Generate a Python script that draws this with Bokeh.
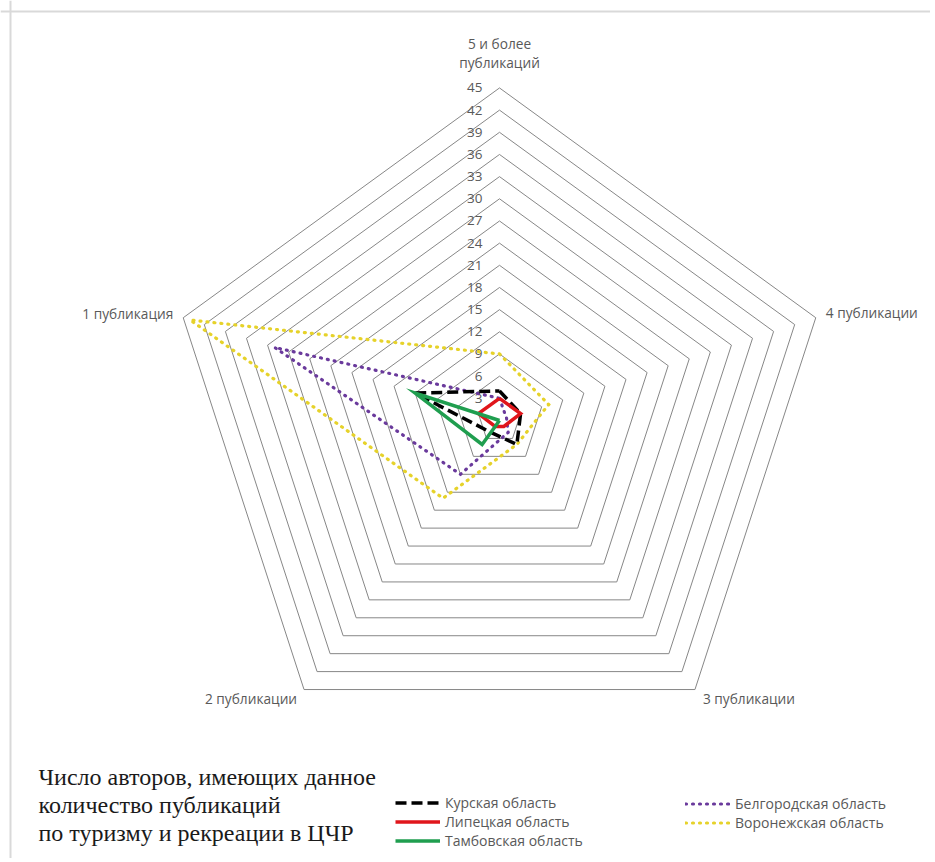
import numpy as np
from bokeh.plotting import figure
from bokeh.models import Range1d, Legend, LegendItem, Span, Label
from bokeh.core.properties import value
from bokeh.embed import file_html
from bokeh.resources import INLINE

# ---------------- data ----------------
categories = ["5 и более\nпубликаций", "4 публикации", "3 публикации", "2 публикации", "1 публикация"]
kursk = [4, 3, 4, 2, 12]
lipetsk = [3, 3, 1, 1, 3]
tambov = [0, 0, 0, 4, 12]
belgorod = [3, 1, 2, 9, 32]
voronezh = [9, 7, 4, 13, 44]
tick_values = [3, 6, 9, 12, 15, 18, 21, 24, 27, 30, 33, 36, 39, 42, 45]
series_names = ["Курская область", "Липецкая область", "Тамбовская область",
                "Белгородская область", "Воронежская область"]
title_lines = ["Число авторов, имеющих данное", "количество публикаций",
               "по туризму и рекреации в ЦЧР"]

# ---------------- geometry ----------------
W, H = 930, 858
CX, CY = 499, 420          # centre of radar inside the canvas (px)
PX = 7.39                  # pixels per unit
RMAX = max(tick_values)

n = len(categories)
ang = np.deg2rad(90 - 72 * np.arange(n))

def polar(vals):
    v = np.asarray(vals, dtype=float)
    xs = v * np.cos(ang)
    ys = v * np.sin(ang)
    return list(xs) + [xs[0]], list(ys) + [ys[0]]

p = figure(width=W, height=H, output_backend="svg", toolbar_location=None,
           x_range=Range1d(-CX / PX, (W - CX) / PX),
           y_range=Range1d(-(H - CY) / PX, CY / PX),
           x_axis_type=None, y_axis_type=None, min_border=0)
p.grid.visible = False
p.outline_line_color = None
p.background_fill_color = "white"
p.border_fill_color = "white"

# chart box border (top / left)
p.add_layout(Span(location=(10 - CX) / PX, dimension="height",
                  line_color="#d9d9d9", line_width=2))
p.add_layout(Span(location=(CY - 11) / PX, dimension="width",
                  line_color="#d9d9d9", line_width=2))

# grid rings
for t in tick_values:
    xs, ys = polar([t] * n)
    p.line(xs, ys, line_color="#878787", line_width=1)

# tick labels
p.text(x=[0] * len(tick_values), y=tick_values, text=[str(t) for t in tick_values],
       text_align="right", text_baseline="middle", x_offset=-17,
       text_font=value("Open Sans"), text_font_size="13.5px", text_color="#595959")

# category labels
lx = list(RMAX * np.cos(ang))
ly = list(RMAX * np.sin(ang))
label_cfg = [  # align, xoff, yoff (of last line)
    ("center", 0, -25),
    ("left", 10, -5),
    ("left", 8, 9),
    ("right", -7, 9),
    ("right", -10, -4),
]
for i, cat in enumerate(categories):
    a, xo, yo = label_cfg[i]
    parts = cat.split("\n")
    for j, part in enumerate(parts):
        p.text(x=[lx[i]], y=[ly[i]], text=[part], text_align=a, text_baseline="middle",
               x_offset=xo, y_offset=yo - 19 * (len(parts) - 1 - j),
               text_font=value("Open Sans"), text_font_size="13.7px", text_color="#595959")

# series
styles = {
    "Воронежская область": dict(line_color="#e6d22a", line_width=3.2, line_dash="1 6", line_cap="round"),
    "Белгородская область": dict(line_color="#6a3a9c", line_width=3.2, line_dash="1 6", line_cap="round"),
    "Курская область": dict(line_color="#000000", line_width=3.5, line_dash="11 5"),
    "Липецкая область": dict(line_color="#e0161b", line_width=3.5),
    "Тамбовская область": dict(line_color="#1f9e4f", line_width=3.5),
}
data = {
    "Курская область": kursk,
    "Липецкая область": lipetsk,
    "Тамбовская область": tambov,
    "Белгородская область": belgorod,
    "Воронежская область": voronezh,
}
renderers = {}
for name in ["Воронежская область", "Белгородская область", "Курская область",
             "Липецкая область", "Тамбовская область"]:
    xs, ys = polar(data[name])
    renderers[name] = p.line(xs, ys, line_join="miter", **styles[name])

def make_legend(names, loc):
    leg = Legend(items=[LegendItem(label=nm, renderers=[renderers[nm]]) for nm in names],
                 location=loc, orientation="vertical", padding=0, spacing=0, margin=0,
                 glyph_width=45, glyph_height=19, label_height=19, label_standoff=5,
                 label_text_font="Open Sans", label_text_font_size="14px",
                 label_text_color="#595959", border_line_color=None,
                 background_fill_alpha=0)
    return leg

p.add_layout(make_legend(series_names[:3], (395, 8)), "center")
p.add_layout(make_legend(series_names[3:], (685, 26)), "center")

# title text
for i, line in enumerate(title_lines):
    p.add_layout(Label(x=38, y=82 - 28 * i, x_units="screen", y_units="screen",
                       text=line, text_font="Liberation Serif", text_font_size="24px",
                       text_color="#1a1a1a", text_baseline="middle"))

open("out.html", "w").write(file_html(p, INLINE))
